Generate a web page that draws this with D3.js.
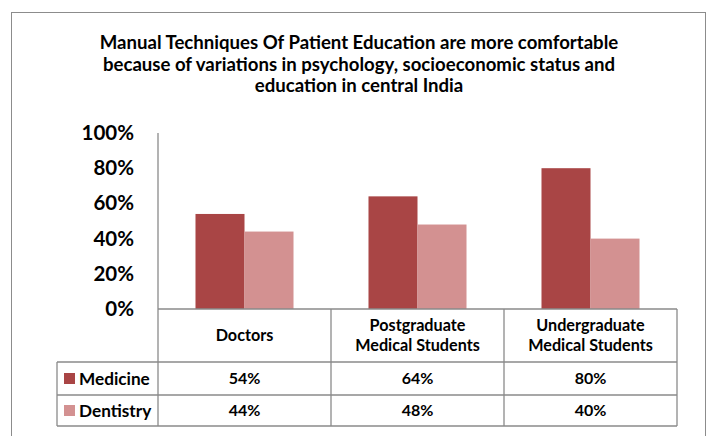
<!DOCTYPE html>
<html>
<head>
<meta charset="utf-8">
<script src="https://cdn.jsdelivr.net/npm/d3@7"></script>
<style>
  body { margin: 0; background: #fff; }
  text { font-family: Lato, "Open Sans", sans-serif; font-weight: bold; fill: #000; }
</style>
</head>
<body>
<div id="chart-area"></div>
<script>
// data
var categories = [["Doctors"], ["Postgraduate", "Medical Students"], ["Undergraduate", "Medical Students"]];
var series = ["Medicine", "Dentistry"];
var medicine = [0.54, 0.64, 0.80];
var dentistry = [0.44, 0.48, 0.40];
var yTicks = [0, 0.2, 0.4, 0.6, 0.8, 1.0];
var titleLines = ["Manual Techniques Of Patient Education are more comfortable",
                  "because of variations in psychology, socioeconomic status and",
                  "education in central India"];

var colors = d3.scaleOrdinal().domain(series).range(["#a94545", "#d39191"]);
var values = [medicine, dentistry];

var width = 710, height = 436;
var plot = {left: 158, right: 677, top: 133, bottom: 309};
var rowH = [53, 33, 31]; // header, medicine, dentistry
var legendLeft = 57;

var svg = d3.select("#chart-area")
    .append("svg")
    .attr("width", width)
    .attr("height", height);

// outer frame
svg.append("rect")
    .attr("x", 11.5).attr("y", 12.5)
    .attr("width", 694).attr("height", 440)
    .attr("fill", "none")
    .attr("stroke", "#8c8c8c")
    .attr("stroke-width", 1);

// title
svg.append("g").selectAll("text")
    .data(titleLines)
    .enter().append("text")
    .attr("x", 359)
    .attr("y", function(d, i){ return 49 + i * 21.5; })
    .attr("text-anchor", "middle")
    .attr("font-size", "18.6px")
    .text(function(d){ return d; });

// scales
var x = d3.scaleBand()
    .domain(d3.range(categories.length))
    .range([plot.left, plot.right]);

var xSub = d3.scaleBand()
    .domain(series)
    .range([0, x.bandwidth()])
    .paddingOuter(0.765);

var y = d3.scaleLinear()
    .domain([0, 1])
    .range([plot.bottom, plot.top]);

// y labels
var leftAxis = d3.axisLeft(y)
    .tickValues(yTicks)
    .tickFormat(d3.format(".0%"))
    .tickSize(0)
    .tickPadding(24);

var yAxisG = svg.append("g")
    .attr("transform", "translate(" + plot.left + ",0)")
    .call(leftAxis);
yAxisG.select(".domain").remove();
yAxisG.selectAll("text")
    .attr("font-family", "Lato, sans-serif")
    .attr("font-weight", "bold")
    .attr("font-size", "20.5px")
    .attr("fill", "#000");

// bars
series.forEach(function(s, si){
    svg.append("g").selectAll("rect")
        .data(values[si])
        .enter().append("rect")
        .attr("x", function(d, i){ return x(i) + xSub(s); })
        .attr("y", function(d){ return y(d); })
        .attr("width", xSub.bandwidth())
        .attr("height", function(d){ return y(0) - y(d); })
        .attr("fill", colors(s));
});

// data table
var grid = svg.append("g")
    .attr("stroke", "#8a8a8a")
    .attr("stroke-width", 1.3)
    .attr("fill", "none");

var rowY = [plot.bottom];
rowH.forEach(function(h){ rowY.push(rowY[rowY.length - 1] + h); });
var tableBottom = rowY[rowY.length - 1];

// y axis line (continues through the table)
grid.append("line")
    .attr("x1", plot.left).attr("x2", plot.left)
    .attr("y1", plot.top).attr("y2", tableBottom);

// horizontal lines
rowY.forEach(function(ry, i){
    grid.append("line")
        .attr("x1", i === 0 ? plot.left : legendLeft)
        .attr("x2", plot.right)
        .attr("y1", ry).attr("y2", ry);
});

// vertical lines
x.domain().forEach(function(i){
    grid.append("line")
        .attr("x1", x(i) + x.bandwidth()).attr("x2", x(i) + x.bandwidth())
        .attr("y1", plot.bottom).attr("y2", tableBottom);
});
grid.append("line")
    .attr("x1", legendLeft).attr("x2", legendLeft)
    .attr("y1", rowY[1]).attr("y2", tableBottom);

// header labels
categories.forEach(function(lines, i){
    var cx = x(i) + x.bandwidth() / 2;
    var cy = plot.bottom + rowH[0] / 2;
    lines.forEach(function(line, li){
        svg.append("text")
            .attr("x", cx)
            .attr("y", cy + (li - (lines.length - 1) / 2) * 20.5 + 5.5)
            .attr("text-anchor", "middle")
            .attr("font-size", "16.2px")
            .text(line);
    });
});

// legend + values
var fmt = d3.format(".0%");
series.forEach(function(s, si){
    var cy = rowY[si + 1] + rowH[si + 1] / 2;
    svg.append("rect")
        .attr("x", 64).attr("y", cy - 5.5)
        .attr("width", 11).attr("height", 11)
        .attr("fill", colors(s));
    svg.append("text")
        .attr("x", 79)
        .attr("y", cy + 6)
        .attr("font-size", "17.2px")
        .text(s);
    values[si].forEach(function(v, i){
        svg.append("text")
            .attr("x", x(i) + x.bandwidth() / 2)
            .attr("y", cy + 5.5)
            .attr("text-anchor", "middle")
            .attr("font-size", "16px")
            .text(fmt(v));
    });
});
</script>
</body>
</html>
